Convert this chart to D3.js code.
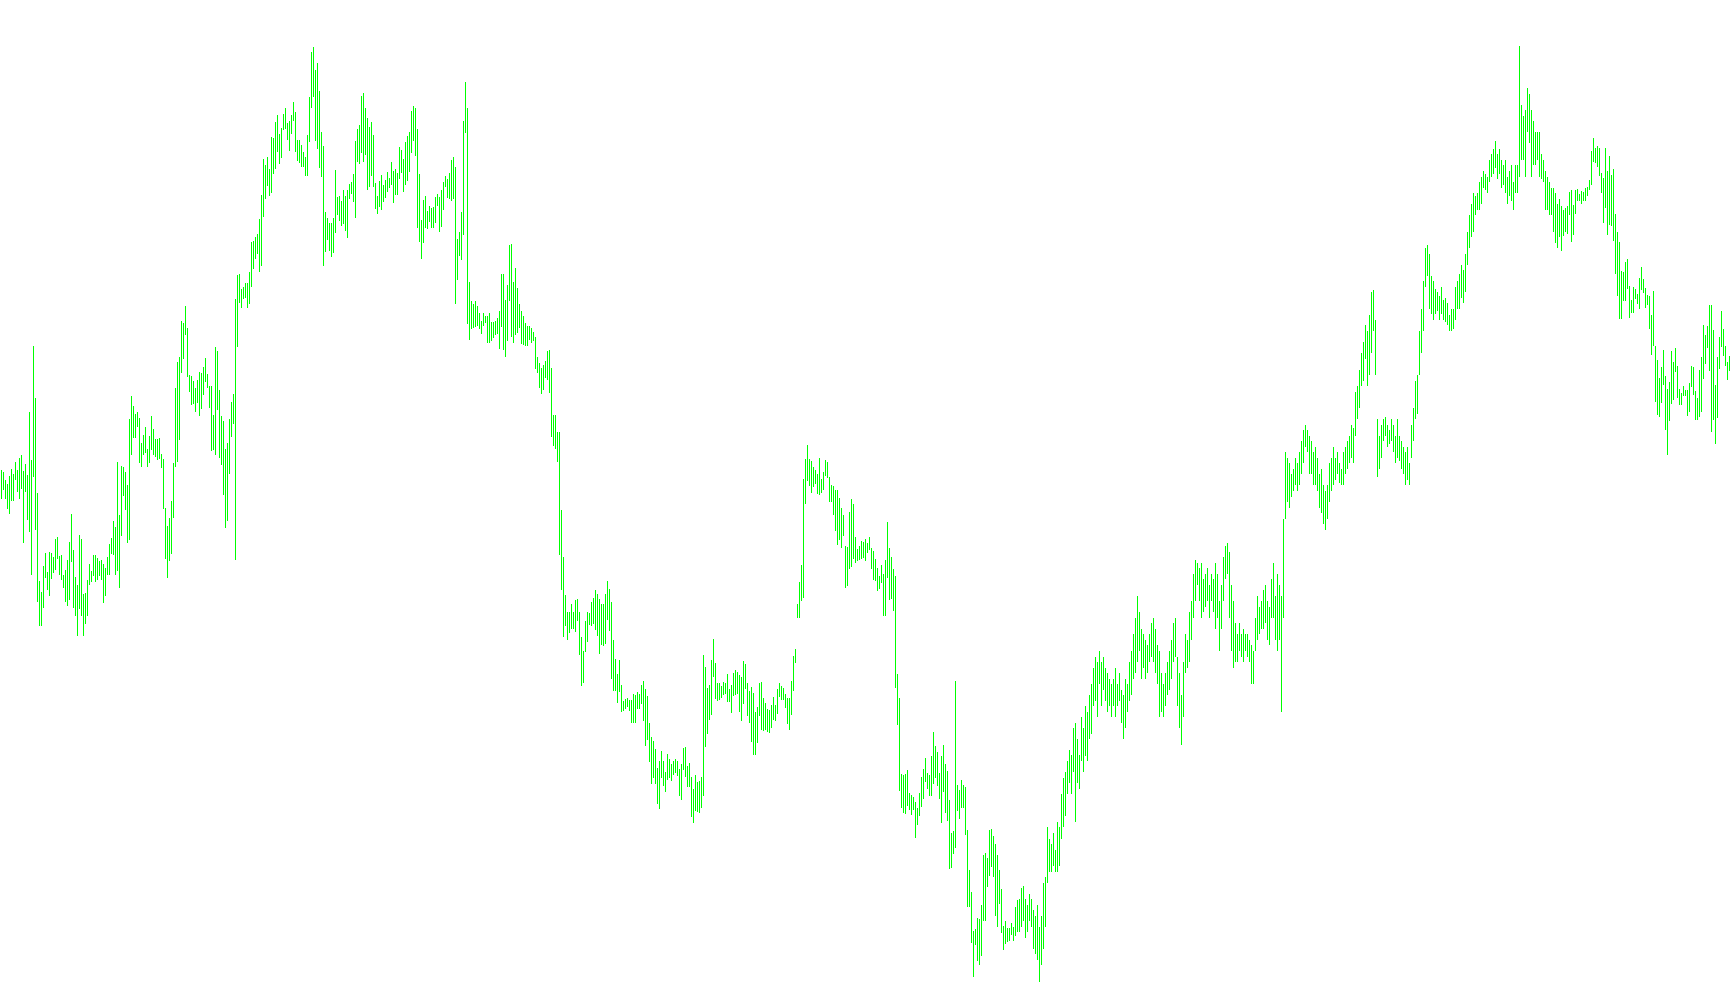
<!DOCTYPE html>
<html>
<head>
<meta charset="utf-8">
<script src="https://cdn.jsdelivr.net/npm/d3@7"></script>
<style>
html,body{margin:0;padding:0;background:#ffffff;overflow:hidden;}
svg{display:block;}
</style>
</head>
<body>
<svg id="chart" width="1730" height="1005"></svg>
<script>
// Bar highs / lows (price points)
const highs = [
535,533,525,521,529,536,531,543,535,547,550,534,541,530,593,545,659,607,512,424,
413,439,452,433,453,452,448,466,468,449,450,430,435,445,463,491,455,428,420,470,
466,411,412,425,441,434,450,450,447,444,445,441,437,448,461,467,484,478,543,490,
539,538,533,520,586,609,599,591,593,587,562,570,578,556,
569,589,576,566,566,567,551,546,497,479,487,504,542,617,643,648,684,682,699,677,
630,629,624,617,625,633,632,638,647,631,619,619,590,658,654,615,589,584,556,562,
586,603,611,706,730,731,716,718,722,722,733,763,764,768,771,786,810,846,840,848,
836,868,867,883,890,871,877,891,897,882,884,890,
903,893,865,865,860,853,848,870,908,953,958,935,942,914,873,859,793,787,782,782,
787,835,808,809,804,815,809,815,821,823,831,864,876,880,909,912,897,887,878,883,
870,822,809,824,830,820,825,833,827,843,834,836,832,858,855,846,863,869,873,894,
899,897,876,831,785,805,809,794,799,797,798,808,811,
808,815,823,829,826,832,845,848,838,766,773,793,884,923,897,723,704,701,704,699,
692,684,692,689,689,692,683,683,684,687,694,731,731,705,720,760,761,723,737,717,
701,694,689,682,679,679,677,673,668,648,642,637,640,644,654,655,637,590,590,573,
573,495,448,410,393,393,401,393,405,406,393,368,
354,384,393,392,403,407,415,411,406,401,401,411,424,416,403,365,346,331,345,320,
304,306,307,305,305,311,310,313,311,320,324,316,309,282,268,264,256,237,244,254,
244,233,251,246,241,244,246,244,236,241,257,258,239,242,228,216,230,223,224,228,
350,338,317,320,345,366,342,322,322,319,323,322,331,
316,320,332,335,333,330,328,344,341,322,314,318,312,293,298,322,323,307,302,296,
295,300,308,300,316,322,319,317,311,307,307,324,349,356,401,423,440,526,546,560,
546,544,538,535,531,547,526,533,545,543,528,520,519,515,515,507,497,490,459,458,
493,506,501,468,456,459,464,463,466,462,468,457,
454,446,437,429,440,431,445,483,457,448,436,429,331,307,231,230,231,235,212,210,
208,203,197,212,228,236,247,232,230,249,273,259,253,232,249,260,241,234,205,172,
174,324,220,215,225,220,218,175,135,113,74,76,87,86,100,150,152,147,175,176,
169,161,150,135,116,79,84,77,77,82,78,98,105,
106,117,119,106,100,111,106,95,89,100,
78,89,122,128,178,166,161,172,155,183,
178,211,227,233,244,255,250,277,282,266,
250,288,277,299,293,310,321,337,348,343,
354,343,348,337,332,326,321,326,337,321,
332,315,310,326,321,343,354,371,387,409,
393,376,371,365,360,371,382,387,376,360,
354,332,321,332,343,354,365,382,387,348,
332,310,343,371,365,393,404,431,445,442,
437,442,426,431,437,420,431,426,442,431,
404,420,448,459,462,453,420,404,382,371,
382,371,376,371,371,365,360,354,387,409,
398,404,415,420,404,398,426,442,409,431,
420,409,486,553,547,542,531,536,547,542,
553,564,575,580,575,569,564,553,558,547,
531,536,520,514,520,542,547,558,547,553,
542,536,553,558,564,569,580,577,613,619,
635,652,663,680,674,690,713,715,685,586,
569,580,586,588,580,575,586,580,569,586,
569,564,558,553,558,542,580,597,624,630,
674,696,724,757,760,751,729,724,716,713,
709,718,705,707,702,690,696,696,718,724,
731,740,735,751,773,790,801,812,809,812,
823,828,834,831,828,845,851,856,864,851,
856,845,840,845,828,834,840,823,840,840,
959,900,889,895,917,911,895,884,873,873,
873,851,845,834,828,823,817,817,812,801,
806,
799,795,797,799,813,815,800,815,816,811,
814,813,817,818,825,854,867,857,859,857,
832,827,857,834,849,830,836,791,773,763,
734,733,743,746,719,705,718,716,711,727,
738,726,717,710,709,690,714,659,645,627,
638,655,629,616,623,654,643,657,639,616,
612,619,615,615,622,639,638,614,607,635,
648,680,670,679,700,700,675,620,648,668,
694,676,659,643,649
];
const lows = [
506,515,506,496,491,504,504,525,513,506,516,462,513,485,473,430,528,475,403,379,
379,397,427,415,409,426,432,435,446,430,425,417,403,399,405,443,397,389,369,396,
389,369,381,389,420,423,429,423,425,429,425,402,409,430,430,451,450,430,434,417,
469,509,495,462,465,550,567,567,578,542,538,550,552,538,
542,555,550,548,545,546,537,496,446,427,444,451,487,538,543,565,632,646,670,628,
613,600,601,593,602,589,596,610,623,617,597,554,555,550,595,547,540,510,477,484,
531,568,581,445,658,702,697,706,707,697,701,718,736,746,751,733,739,788,806,819,
809,812,831,836,853,841,847,875,876,865,854,871,
884,853,844,842,838,838,829,829,863,897,908,864,856,837,828,739,753,765,754,748,
752,772,790,784,779,781,774,767,806,811,803,787,843,841,852,843,850,815,818,829,
818,796,791,798,795,803,807,813,817,820,802,810,810,826,832,813,820,824,833,852,
864,849,777,763,746,762,777,776,783,777,777,782,799,
773,778,795,818,807,806,804,806,701,725,749,745,770,872,681,665,676,677,678,679,
676,671,679,682,662,662,664,667,670,671,656,678,655,648,664,704,668,662,670,672,
677,661,660,659,659,665,662,664,636,632,617,611,615,627,625,612,568,559,556,543,
450,415,368,379,365,372,376,376,373,384,350,319,
322,353,363,380,379,381,375,369,351,360,359,361,385,374,326,314,314,302,313,293,
294,296,298,294,282,282,282,296,296,301,284,259,265,243,221,227,221,201,196,227,
219,213,225,227,224,230,232,229,209,205,235,228,218,218,188,182,194,193,192,197,
209,258,271,285,290,328,306,304,305,307,310,311,303,
303,292,309,310,311,293,284,301,316,289,282,263,250,250,262,289,275,274,275,273,
272,277,285,284,291,308,305,305,297,281,275,290,314,342,387,387,404,407,501,524,
519,512,518,521,511,510,512,515,529,527,503,503,490,474,460,465,457,469,417,419,
436,438,446,442,444,445,446,447,444,452,455,436,
425,424,414,416,422,389,389,427,405,406,394,317,280,214,197,192,191,199,195,190,
195,167,180,189,198,206,223,216,209,209,221,227,219,206,182,213,192,184,136,137,
151,157,194,186,197,197,170,98,98,62,28,60,44,40,49,84,84,118,129,138,
128,89,78,101,72,55,61,63,64,70,64,69,73,
73,78,84,67,73,84,78,56,51,45,
23,40,56,78,122,133,133,139,133,133,
139,166,178,189,211,222,211,233,183,222,
216,244,233,249,244,266,271,299,304,288,
321,299,315,304,293,299,288,299,288,299,
304,282,266,277,293,304,310,326,332,343,
354,326,337,326,332,343,348,343,332,321,
288,293,288,299,310,315,326,343,348,299,
277,260,288,332,337,343,365,387,404,420,
404,387,393,398,404,387,404,393,376,387,
354,376,404,426,431,387,354,337,343,343,
354,348,343,354,348,343,321,321,354,365,
371,376,376,382,365,360,387,387,365,354,
365,293,387,486,503,497,508,514,520,514,
520,531,542,558,553,531,531,520,520,514,
497,492,481,475,486,503,514,520,525,531,
522,520,520,531,536,542,547,542,569,586,
597,619,624,646,619,630,652,674,630,528,
536,547,564,569,558,561,564,553,542,547,
544,536,531,520,525,520,547,564,586,591,
630,652,674,718,729,696,691,685,691,694,
685,691,685,683,680,674,674,676,685,696,
696,707,702,713,740,757,768,773,790,795,
795,801,817,815,812,823,828,831,837,826,
831,817,820,812,801,809,804,795,812,812,
828,845,845,828,873,862,828,840,840,845,
828,826,823,795,795,790,790,773,762,757,
768,
754,769,773,771,790,763,770,791,804,804,
801,804,804,809,815,820,843,842,838,829,
812,782,797,770,780,779,764,731,709,686,
686,704,704,716,687,692,692,706,701,696,
715,712,697,700,676,650,659,603,590,588,
602,620,575,550,584,601,605,633,607,600,
600,609,609,589,593,618,610,585,585,588,
593,626,641,657,634,573,585,561,587,636,
658,649,639,625,634
];
const priceDomain = [0, 1005];  // price range spanned by the plot

const W = 1730, H = 1005;
const barCount = highs.length;
const svg = d3.select('#chart');
const x = d3.scaleLinear().domain([1, barCount]).range([1.5, 1.5 + 2 * (barCount - 1)]);
const y = d3.scaleLinear().domain(priceDomain).range([H, 0]);

const data = highs.map((h, i) => ({i: i + 1, h, l: lows[i]}));

svg.append('g')
  .attr('shape-rendering', 'crispEdges')
  .selectAll('line')
  .data(data)
  .join('line')
  .attr('x1', d => x(d.i))
  .attr('x2', d => x(d.i))
  .attr('y1', d => y(d.h))
  .attr('y2', d => y(d.l))
  .attr('stroke', '#00ff00')
  .attr('stroke-width', 1);
</script>
</body>
</html>
